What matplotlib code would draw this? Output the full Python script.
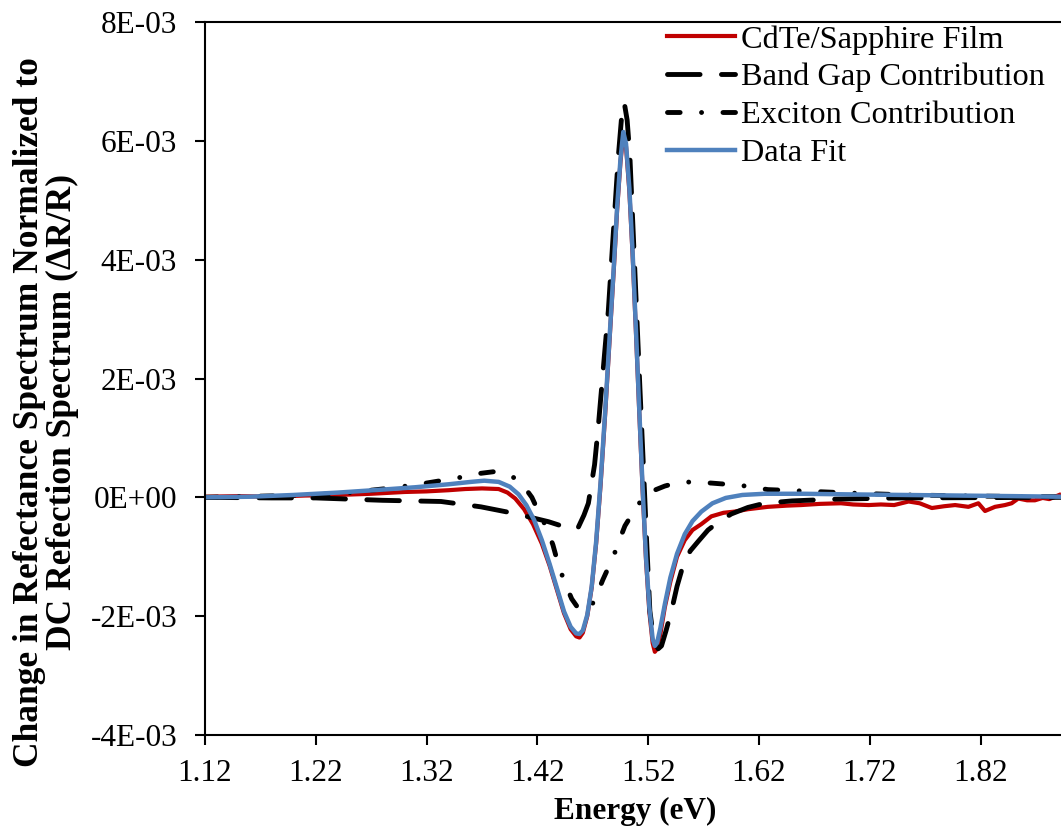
import matplotlib
matplotlib.use("Agg")
import matplotlib.pyplot as plt
import numpy as np
from matplotlib.ticker import FuncFormatter

plt.rcParams['font.family'] = ['Liberation Serif', 'DejaVu Serif']

# values, y in units of 1E-03
energy_film = [1.120, 1.150, 1.180, 1.210, 1.240, 1.270, 1.300, 1.320, 1.340, 1.355,
               1.370, 1.385, 1.393, 1.400, 1.408, 1.416, 1.424, 1.431, 1.438, 1.444,
               1.450, 1.455, 1.458, 1.461, 1.465, 1.469, 1.473, 1.477, 1.481, 1.485,
               1.489, 1.492, 1.495, 1.4975, 1.500, 1.503, 1.506, 1.509, 1.512, 1.515,
               1.518, 1.521, 1.524, 1.526, 1.528, 1.531, 1.535, 1.540, 1.546, 1.553,
               1.560, 1.568, 1.577, 1.588, 1.598, 1.610, 1.628, 1.645, 1.658, 1.675,
               1.694, 1.705, 1.719, 1.730, 1.742, 1.755, 1.765, 1.776, 1.787, 1.797,
               1.809, 1.818, 1.824, 1.833, 1.842, 1.848, 1.854, 1.862, 1.869, 1.876,
               1.882, 1.891]
film = [0.01, 0.02, 0.01, 0.03, 0.04, 0.06, 0.09, 0.10, 0.12, 0.14,
        0.15, 0.14, 0.08, -0.02, -0.20, -0.45, -0.78, -1.15, -1.58, -1.95,
        -2.22, -2.34, -2.36, -2.28, -2.00, -1.52, -0.78, 0.20, 1.35, 2.60,
        3.85, 4.85, 5.65, 6.10, 5.90, 5.15, 4.05, 2.75, 1.40, 0.10,
        -1.05, -1.92, -2.45, -2.60, -2.55, -2.30, -1.85, -1.42, -1.00, -0.72,
        -0.55, -0.45, -0.32, -0.26, -0.24, -0.20, -0.16, -0.14, -0.13, -0.11,
        -0.10, -0.12, -0.13, -0.12, -0.13, -0.07, -0.10, -0.18, -0.15, -0.13,
        -0.16, -0.10, -0.23, -0.16, -0.13, -0.10, -0.02, -0.05, -0.05, -0.01,
        -0.03, 0.04]

energy_gap = [1.120, 1.180, 1.220, 1.280, 1.333, 1.369, 1.399, 1.430, 1.445, 1.452,
              1.457, 1.462, 1.466, 1.4716, 1.475, 1.478, 1.481, 1.484, 1.4885, 1.493,
              1.496, 1.4984, 1.501, 1.5035, 1.5065, 1.5095, 1.5125, 1.5156, 1.5186, 1.5215,
              1.525, 1.529, 1.532, 1.536, 1.541, 1.546, 1.5517, 1.558, 1.5652, 1.574,
              1.583, 1.595, 1.610, 1.625, 1.650, 1.690, 1.750, 1.893]
band_gap = [0.00, -0.01, -0.01, -0.05, -0.07, -0.16, -0.27, -0.41, -0.50, -0.55,
            -0.50, -0.30, -0.10, 0.55, 1.20, 1.85, 2.50, 3.14, 4.44, 5.73,
            6.40, 6.64, 6.35, 5.73, 4.44, 3.14, 1.85, 0.55, -0.74, -1.91,
            -2.40, -2.55, -2.50, -2.25, -1.91, -1.50, -1.13, -0.90, -0.74, -0.55,
            -0.42, -0.28, -0.17, -0.10, -0.06, -0.03, -0.01, 0.00]

energy_exc = [1.120, 1.170, 1.219, 1.250, 1.285, 1.310, 1.336, 1.355, 1.367, 1.380,
              1.390, 1.400, 1.408, 1.415, 1.421, 1.428, 1.434, 1.439, 1.445, 1.451,
              1.457, 1.463, 1.469, 1.474, 1.479, 1.4885, 1.494, 1.499, 1.5095, 1.516,
              1.523, 1.535, 1.545, 1.553, 1.565, 1.577, 1.604, 1.628, 1.655, 1.706,
              1.755, 1.820, 1.893]
exciton = [0.00, 0.02, 0.04, 0.08, 0.15, 0.21, 0.29, 0.35, 0.40, 0.43,
           0.41, 0.32, 0.18, 0.00, -0.24, -0.50, -0.80, -1.14, -1.45, -1.71,
           -1.87, -1.91, -1.82, -1.62, -1.39, -1.00, -0.72, -0.48, -0.16, 0.00,
           0.10, 0.19, 0.24, 0.26, 0.25, 0.24, 0.20, 0.13, 0.11, 0.07,
           0.04, 0.02, 0.01]

energy_fit = [1.120, 1.160, 1.200, 1.240, 1.280, 1.310, 1.340, 1.360, 1.372, 1.385,
              1.395, 1.403, 1.410, 1.417, 1.424, 1.431, 1.438, 1.444, 1.450, 1.455,
              1.458, 1.461, 1.465, 1.469, 1.473, 1.477, 1.481, 1.485, 1.489, 1.492,
              1.495, 1.4975, 1.500, 1.503, 1.506, 1.509, 1.512, 1.515, 1.518, 1.521,
              1.524, 1.526, 1.528, 1.531, 1.535, 1.540, 1.546, 1.553, 1.560, 1.568,
              1.578, 1.590, 1.605, 1.625, 1.660, 1.700, 1.750, 1.800, 1.850, 1.893]
fit = [0.00, 0.01, 0.04, 0.08, 0.13, 0.17, 0.22, 0.26, 0.28, 0.26,
       0.18, 0.05, -0.13, -0.38, -0.72, -1.12, -1.55, -1.92, -2.18, -2.29,
       -2.30, -2.24, -1.98, -1.50, -0.75, 0.25, 1.40, 2.65, 3.90, 4.90,
       5.70, 6.15, 5.95, 5.20, 4.10, 2.80, 1.45, 0.15, -1.00, -1.85,
       -2.38, -2.50, -2.45, -2.20, -1.80, -1.35, -0.95, -0.62, -0.40, -0.24,
       -0.10, -0.01, 0.04, 0.06, 0.06, 0.05, 0.04, 0.03, 0.02, 0.01]

x_ticks = [1.12, 1.22, 1.32, 1.42, 1.52, 1.62, 1.72, 1.82]
y_ticks = [-4e-3, -2e-3, 0, 2e-3, 4e-3, 6e-3, 8e-3]

fig = plt.figure(figsize=(10.61, 8.27), dpi=100)
ax = fig.add_axes([205/1061, 92/827, 856/1061, 713/827])

s = 1e-3
ax.plot(energy_film, np.array(film)*s, color='#C00000', lw=3, label='CdTe/Sapphire Film')
ax.plot(energy_gap, np.array(band_gap)*s, color='black', lw=3.5, dashes=(6.7, 4.4),
        dash_capstyle='round', label='Band Gap Contribution')
ax.plot(energy_exc, np.array(exciton)*s, color='black', lw=3.5, dashes=(2.6, 4.4, 0.01, 4.4),
        dash_capstyle='round', label='Exciton Contribution')
ax.plot(energy_fit, np.array(fit)*s, color='#4F81BD', lw=3.2, label='Data Fit')

ax.set_xlim(1.12, 1.12 + 856/1108)
ax.set_ylim(-4e-3, 8e-3)
ax.set_xticks(x_ticks)
ax.set_yticks(y_ticks)
ax.xaxis.set_major_formatter(FuncFormatter(lambda v, p: '%.2f' % v))
ax.yaxis.set_major_formatter(FuncFormatter(lambda v, p: '%.0E' % v))
ax.tick_params(axis='both', direction='out', length=7, width=1.5, labelsize=22.5)
ax.tick_params(axis='y', pad=13)
ax.tick_params(axis='x', pad=10)

ax.spines['right'].set_visible(False)
for sp in ['left', 'bottom', 'top']:
    ax.spines[sp].set_linewidth(1.5)

ax.set_xlabel('Energy (eV)', fontsize=22.5, fontweight='bold')
ax.xaxis.set_label_coords(0.502, -0.087)
fig.text(46/1061, 1 - 412/827,
         'Change in Refectance Spectrum Normalized to\nDC Refection Spectrum (\u0394R/R)',
         rotation=90, ha='center', va='center', ma='center', fontsize=25.5, fontweight='bold',
         linespacing=1.0)

ax.legend(loc='upper left', bbox_to_anchor=(667/1061, 1 - 25/827), bbox_transform=fig.transFigure,
          frameon=False, fontsize=23.3, handlelength=2.1, handletextpad=0.2,
          labelspacing=0.25, borderpad=0, borderaxespad=0)

fig.savefig('out.png', dpi=100)
